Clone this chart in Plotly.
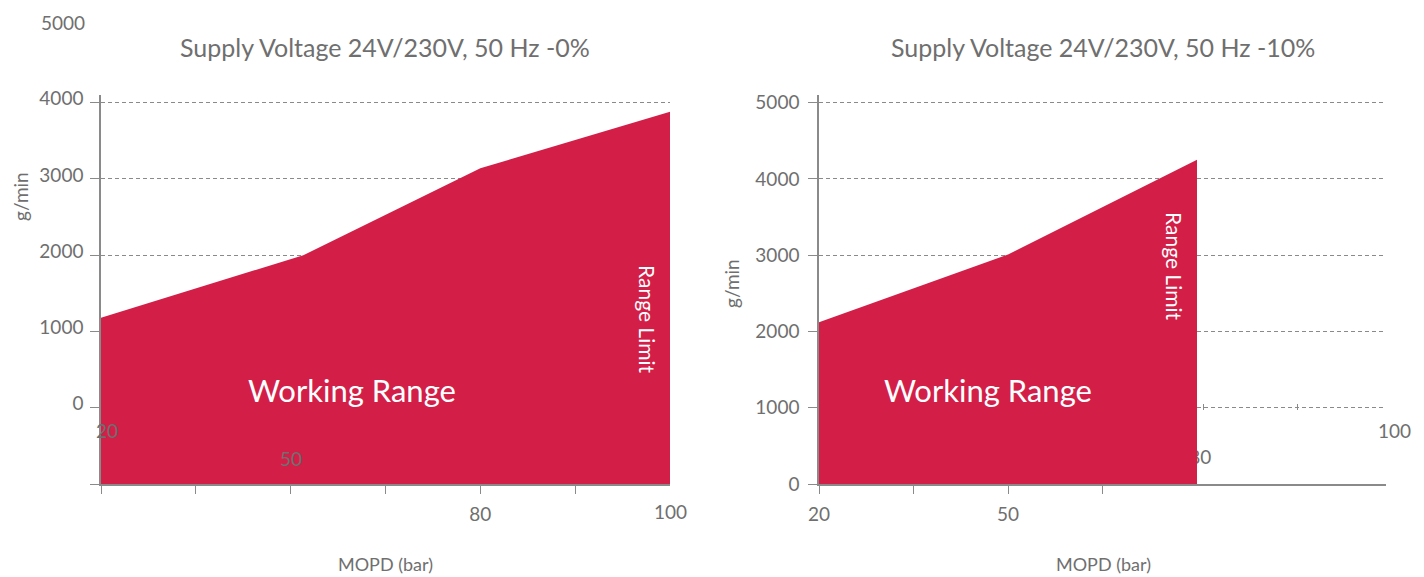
import plotly.graph_objects as go

W, H = 1424, 577
FONT = "Lato"
GREY = "#6f6f6f"
AXIS = "#8a8a8a"
RED = "#d31f48"

# Working-range envelopes (MOPD in bar, flow in g/min)
mopd_0 = [20, 52, 80, 110]
flow_0 = [1180, 2000, 3140, 3880]
mopd_10 = [20, 50, 80]
flow_10 = [2120, 3010, 4250]

# Axis ticks
x_ticks_0 = [20, 35, 50, 65, 80, 95]
x_text_0 = ["", "", "", "", "80", ""]
x_ticks_10 = [20, 35, 50, 65]
x_text_10 = ["20", "", "50", ""]
x_ticks_10_upper = [80, 95, 110]
y_ticks_0 = [-1000, 0, 1000, 2000, 3000, 4000]
y_text_0 = ["", "0", "1000", "2000", "3000", "4000"]
y_ticks_10 = [0, 1000, 2000, 3000, 4000, 5000]
y_text_10 = ["0", "1000", "2000", "3000", "4000", "5000"]

titles = ["Supply Voltage 24V/230V, 50 Hz -0%", "Supply Voltage 24V/230V, 50 Hz -10%"]

Y0_RANGE = [-1000, 4100]
Y10_RANGE = [0, 5100]
X_RANGE = [20, 110]


def px(x):
    return x / W


def py(y):
    return 1 - y / H


fig = go.Figure()

# left panel: envelope filled down to the bottom of the axis
fig.add_trace(go.Scatter(x=mopd_0, y=[Y0_RANGE[0]] * len(mopd_0), mode="lines",
                         line=dict(width=0, color=RED), hoverinfo="skip",
                         showlegend=False, xaxis="x", yaxis="y"))
fig.add_trace(go.Scatter(x=mopd_0, y=flow_0, mode="lines", fill="tonexty",
                         fillcolor=RED, line=dict(width=0, color=RED),
                         showlegend=False, xaxis="x", yaxis="y"))

# right panel: the "80" label sits underneath the envelope
fig.add_trace(go.Scatter(x=[80.5], y=[328], mode="text", text=["80"],
                         textfont=dict(family=FONT, size=19, color=GREY),
                         hoverinfo="skip", showlegend=False, cliponaxis=False,
                         xaxis="x2", yaxis="y2"))
fig.add_trace(go.Scatter(x=mopd_10, y=flow_10, mode="lines", fill="tozeroy",
                         fillcolor=RED, line=dict(width=0, color=RED),
                         showlegend=False, xaxis="x2", yaxis="y2"))

# carrier for the upper tick row of the right panel
fig.add_trace(go.Scatter(x=[None], y=[None], mode="markers", hoverinfo="skip",
                         showlegend=False, xaxis="x3", yaxis="y3"))

Y_DOMAIN = [py(484), py(95)]
tickfont = dict(family=FONT, size=19, color=GREY)

xcommon = dict(range=X_RANGE, showgrid=False, zeroline=False, showline=True,
               linecolor=AXIS, linewidth=1.5, ticks="outside", ticklen=8,
               tickcolor=AXIS, tickwidth=1, tickfont=tickfont, automargin=False,
               tickmode="array", layer="below traces", fixedrange=True,
               ticklabelstandoff=4)
ycommon = dict(showgrid=True, gridcolor=AXIS, gridwidth=1, griddash="4px,3px",
               zeroline=False, showline=True, linecolor=AXIS, linewidth=1.5,
               ticks="outside", ticklen=9, tickcolor=AXIS, tickwidth=1,
               tickfont=tickfont, tickmode="array", fixedrange=True,
               automargin=False)

fig.update_layout(
    template="none",
    width=W, height=H,
    margin=dict(l=0, r=0, t=0, b=0, autoexpand=False),
    paper_bgcolor="white", plot_bgcolor="rgba(0,0,0,0)",
    font=dict(family=FONT, color=GREY),
    showlegend=False,
    xaxis=dict(xcommon, domain=[px(101), px(670)], anchor="y",
               tickvals=x_ticks_0, ticktext=x_text_0),
    yaxis=dict(ycommon, domain=Y_DOMAIN, anchor="x", range=Y0_RANGE,
               tickvals=y_ticks_0, ticktext=y_text_0, ticklabelshift=-4,
               ticklabelstandoff=3),
    xaxis2=dict(xcommon, domain=[px(819), px(1386)], anchor="y2",
                tickvals=x_ticks_10, ticktext=x_text_10),
    yaxis2=dict(ycommon, domain=Y_DOMAIN, anchor="x2", range=Y10_RANGE,
                tickvals=y_ticks_10, ticktext=y_text_10, ticklabelstandoff=5),
    xaxis3=dict(domain=[px(825), px(1392)], anchor="free", position=py(410),
                range=X_RANGE, showgrid=False, zeroline=False, showline=False,
                ticks="inside", ticklen=6, tickcolor=AXIS, tickwidth=1,
                tickmode="array", tickvals=x_ticks_10_upper, automargin=False,
                showticklabels=False, fixedrange=True),
    yaxis3=dict(domain=Y_DOMAIN, anchor="x3", range=Y10_RANGE, visible=False,
                showgrid=False, fixedrange=True, automargin=False),
)

ann = []


def label(x, y, text, size, color=GREY, angle=0, xref="paper", yref="paper", xshift=0):
    ann.append(dict(x=x, y=y, xref=xref, yref=yref, text=text, textangle=angle,
                    xanchor="center", yanchor="middle", xshift=xshift,
                    showarrow=False, font=dict(family=FONT, size=size, color=color)))


# panel titles
for cx, t in zip([385, 1103], titles):
    label(px(cx), py(47), t, 25)
# axis titles
for cx in [385, 1103]:
    label(px(cx), py(564), "MOPD (bar)", 18)
for cx, cy in [(20, 197), (731, 284)]:
    label(px(cx), py(cy), "g/min", 19, angle=-90)
# labels inside the envelopes
for cx in [352, 988]:
    label(px(cx), py(390), "Working Range", 31, color="white")
for cx, cy in [(648, 319), (1175, 266)]:
    label(px(cx), py(cy), "Range Limit", 21, color="white", angle=90)
# loose tick labels
label(px(63), py(22), "5000", 19)
label(20, -292, "20", 19, xref="x", yref="y", xshift=6)
label(50, -660, "50", 19, xref="x", yref="y")
label(110, py(511), "100", 19, xref="x")
label(110, 708, "100", 19, xref="x2", yref="y2", xshift=8)
fig.update_layout(annotations=ann)

fig.write_html("out.html")
